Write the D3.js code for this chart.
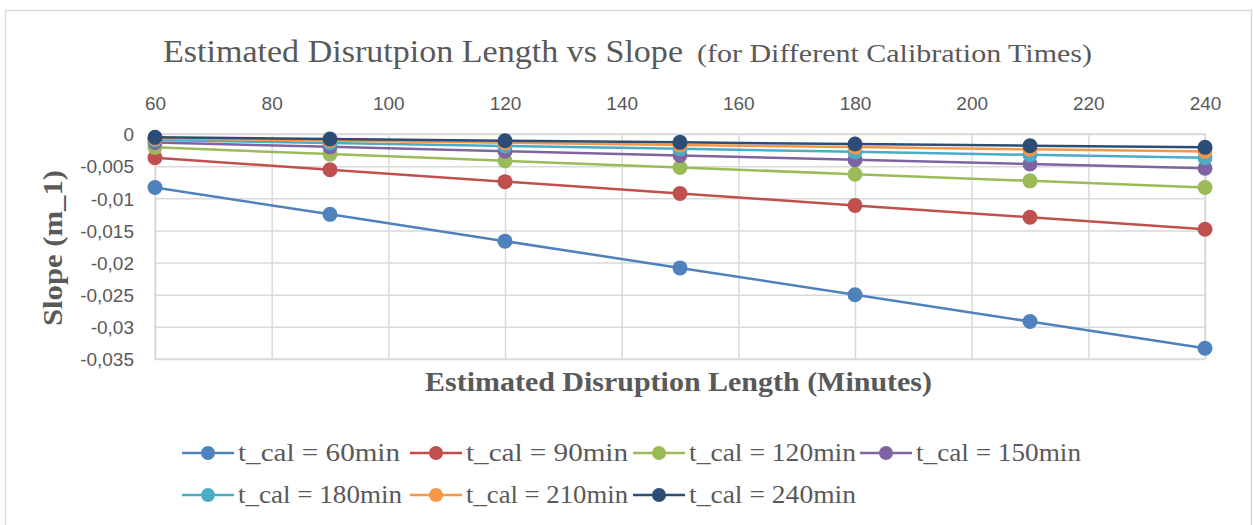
<!DOCTYPE html>
<html><head><meta charset="utf-8">
<script src="https://cdn.jsdelivr.net/npm/d3@7"></script>
<style>
html,body{margin:0;padding:0;background:#fff;}
svg{display:block;}
</style></head>
<body>
<svg id="chart" width="1253" height="525"></svg>
<script>
const xValues = [60, 90, 120, 150, 180, 210, 240];
const seriesNames = ["t_cal = 60min","t_cal = 90min","t_cal = 120min","t_cal = 150min","t_cal = 180min","t_cal = 210min","t_cal = 240min"];
const s60  = [-0.00833, -0.0125, -0.01667, -0.02083, -0.025, -0.02917, -0.03333];
const s90  = [-0.0037, -0.00556, -0.00741, -0.00926, -0.01111, -0.01296, -0.01481];
const s120 = [-0.00208, -0.00313, -0.00417, -0.00521, -0.00625, -0.00729, -0.00833];
const s150 = [-0.00133, -0.002, -0.00267, -0.00333, -0.004, -0.00467, -0.00533];
const s180 = [-0.00093, -0.00139, -0.00185, -0.00231, -0.00278, -0.00324, -0.0037];
const s210 = [-0.00068, -0.00102, -0.00136, -0.0017, -0.00204, -0.00238, -0.00272];
const s240 = [-0.00052, -0.00078, -0.00104, -0.0013, -0.00156, -0.00182, -0.00208];
const xTicks = [60, 80, 100, 120, 140, 160, 180, 200, 220, 240];
const yTicks = [0, -0.005, -0.01, -0.015, -0.02, -0.025, -0.03, -0.035];
const yTickLabels = ["0", "-0,005", "-0,01", "-0,015", "-0,02", "-0,025", "-0,03", "-0,035"];
const colors = ["#4F81BD", "#C0504D", "#9BBB59", "#8064A2", "#4BACC6", "#F79646", "#2C4D75"];

const allSeries = [s60, s90, s120, s150, s180, s210, s240];
const svg = d3.select("#chart");
const plot = {l: 155, r: 1205, t: 134, b: 359};

// outer border
svg.append("rect").attr("x", 5.5).attr("y", 10.5).attr("width", 1246).attr("height", 530)
  .attr("fill", "#fff").attr("stroke", "#d9d9d9").attr("stroke-width", 1.5);

const x = d3.scaleLinear().domain([60, 240]).range([plot.l, plot.r]);
const y = d3.scaleLinear().domain([-0.035, 0]).range([plot.b, plot.t]);

const sans = "Liberation Sans, Arial, sans-serif";
// gridlines + axes
const g = svg.append("g");
g.append("g").attr("transform", `translate(0,${plot.t})`)
  .call(d3.axisTop(x).tickValues(xTicks).tickSize(-(plot.b - plot.t)).tickFormat(d => d).tickPadding(24))
  .call(a => {
    a.select(".domain").remove();
    a.selectAll(".tick line").attr("stroke", "#d9d9d9").attr("stroke-width", 1.5);
    a.selectAll(".tick text").attr("fill", "#595959").attr("font-family", sans).attr("font-size", 19);
  });
g.append("g").attr("transform", `translate(${plot.l},0)`)
  .call(d3.axisLeft(y).tickValues(yTicks).tickSize(-(plot.b - plot.t) * 0 - (plot.r - plot.l)).tickFormat((d, i) => yTickLabels[i]).tickPadding(21))
  .call(a => {
    a.select(".domain").remove();
    a.selectAll(".tick line").attr("stroke", "#d9d9d9").attr("stroke-width", 1.5);
    a.selectAll(".tick text").attr("fill", "#595959").attr("font-family", sans).attr("font-size", 19).attr("dy", "0.36em");
  });
// plot frame
svg.append("rect").attr("x", plot.l).attr("y", plot.t).attr("width", plot.r - plot.l).attr("height", plot.b - plot.t)
  .attr("fill", "none").attr("stroke", "#d9d9d9").attr("stroke-width", 1.5);

// series
const line = d3.line().x((d, i) => x(xValues[i])).y(d => y(d));
allSeries.forEach((s, k) => {
  const sg = svg.append("g");
  sg.append("path").datum(s).attr("d", line).attr("fill", "none").attr("stroke", colors[k]).attr("stroke-width", 2.5);
  sg.selectAll("circle").data(s).join("circle")
    .attr("cx", (d, i) => x(xValues[i])).attr("cy", d => y(d)).attr("r", 7.5).attr("fill", colors[k]);
});

// title
const serif = "Liberation Serif, Times New Roman, serif";
const title = svg.append("text").attr("y", 62).attr("fill", "#595959").attr("font-family", serif);
title.append("tspan").attr("x", 163).attr("font-size", 32).text("Estimated Disrutpion Length vs Slope")
  .attr("textLength", 520).attr("lengthAdjust", "spacingAndGlyphs");
title.append("tspan").attr("x", 697).attr("font-size", 25).text("(for Different Calibration Times)")
  .attr("textLength", 395).attr("lengthAdjust", "spacingAndGlyphs");

// axis titles
svg.append("text").attr("x", 425).attr("y", 391).attr("fill", "#595959").attr("font-family", serif)
  .attr("font-weight", "bold").attr("font-size", 27).text("Estimated Disruption Length (Minutes)")
  .attr("textLength", 507).attr("lengthAdjust", "spacingAndGlyphs");
svg.append("text").attr("transform", `translate(62,${(170 + 326) / 2}) rotate(-90)`).attr("text-anchor", "middle")
  .attr("fill", "#595959").attr("font-family", serif).attr("font-weight", "bold").attr("font-size", 28)
  .text("Slope (m_1)").attr("textLength", 156).attr("lengthAdjust", "spacingAndGlyphs");

// legend
const legendPos = [[182, 453], [410, 453], [633, 453], [860, 453], [182, 495], [410, 495], [633, 495]];
const legendTextW = [162, 162, 167, 165, 164, 162, 167];
seriesNames.forEach((name, k) => {
  const [lx, ly] = legendPos[k];
  const lg = svg.append("g").attr("transform", `translate(${lx},${ly})`);
  lg.append("line").attr("x1", 0).attr("x2", 52).attr("y1", 0).attr("y2", 0).attr("stroke", colors[k]).attr("stroke-width", 2.5);
  lg.append("circle").attr("cx", 26).attr("cy", 0).attr("r", 7).attr("fill", colors[k]);
  lg.append("text").attr("x", 56).attr("y", 8).attr("fill", "#595959").attr("font-family", serif).attr("font-size", 25)
    .text(name).attr("textLength", legendTextW[k]).attr("lengthAdjust", "spacingAndGlyphs");
});
</script>
</body></html>
